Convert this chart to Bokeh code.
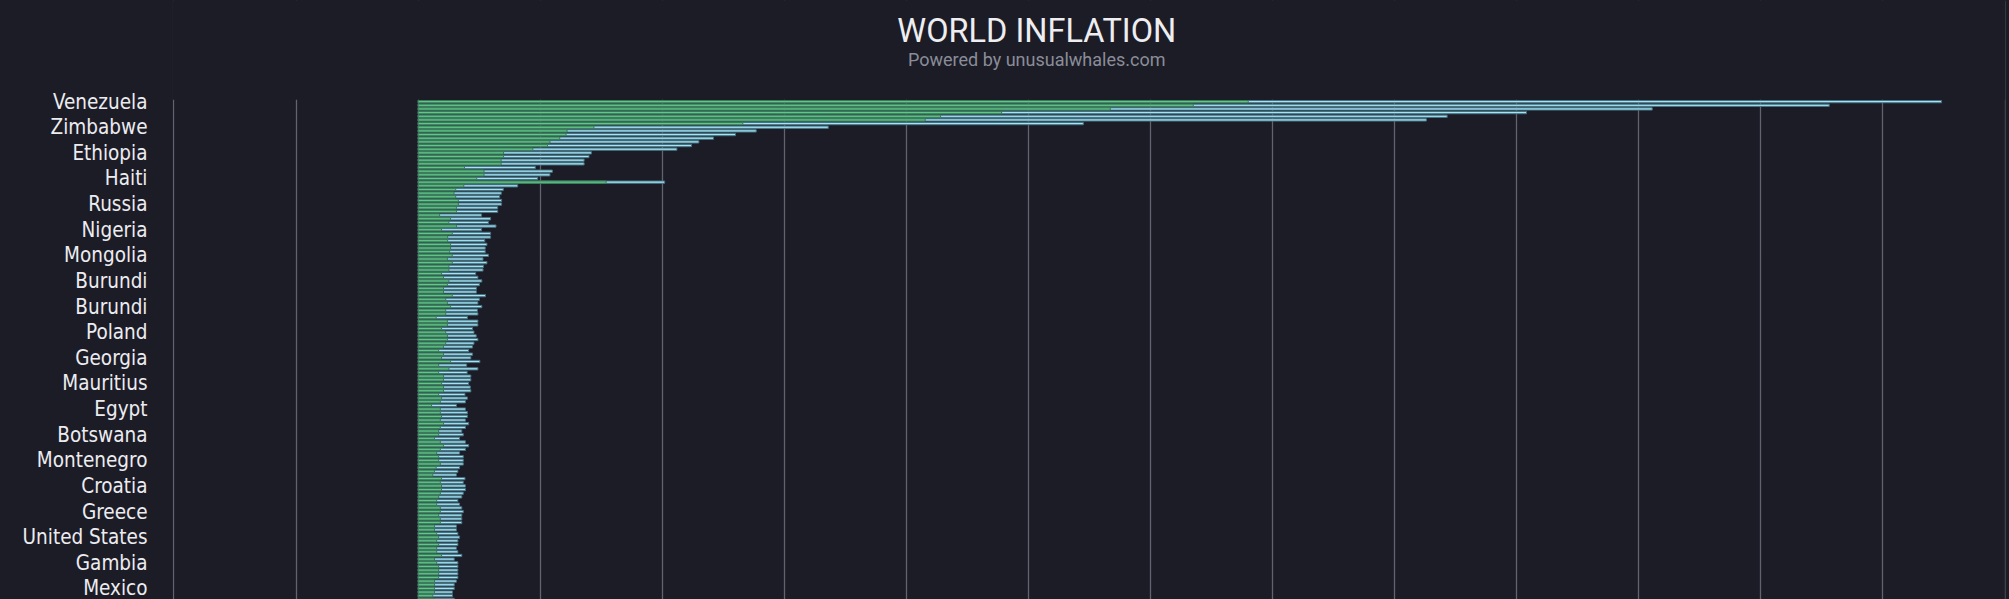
from bokeh.plotting import figure
from bokeh.models import (Range1d, FixedTicker, SingleIntervalTicker, Label,
                          BoxAnnotation, ColumnDataSource)
from bokeh.embed import file_html
from bokeh.resources import INLINE

# ---- data (inflation, previous vs current reading), sorted as in the chart ----
previous = [
    340, 317.5, 283.5, 239, 214, 207.7, 133, 72, 61, 60.6,
    58, 54, 53, 47, 35, 35, 34, 34, 19, 27,
    27, 24, 77, 18.7, 15.4, 14.7, 15.4, 16.5, 16.5, 15.7,
    15.7, 8.8, 13.3, 12.6, 15.7, 9.6, 14.0, 12.1, 12.1, 13.3,
    13.3, 12.9, 14.0, 12.0, 14.0, 12.6, 12.6, 9.6, 10.4, 12.6,
    12.0, 10.4, 10.4, 14.0, 11.3, 12.0, 13.3, 11.3, 11.3, 7.4,
    12.0, 12.0, 9.6, 11.3, 12.0, 12.0, 11.3, 10.4, 8.4, 10.4,
    9.6, 13.3, 8.4, 12.6, 8.4, 10.4, 10.4, 9.6, 10.4, 10.4,
    8.4, 9.6, 9.1, 5.5, 9.1, 9.1, 9.6, 9.1, 10.4, 9.1,
    8.4, 8.4, 6.7, 9.1, 10.4, 9.1, 7.6, 8.4, 8.4, 9.1,
    7.4, 6.7, 6.0, 9.6, 9.1, 9.6, 9.6, 9.1, 8.4, 7.6,
    7.6, 9.1, 9.1, 8.4, 9.1, 9.1, 6.7, 6.7, 7.6, 8.4,
    7.6, 8.4, 7.6, 7.6, 9.6, 6.7, 7.6, 8.4, 8.4, 8.4,
    8.4, 6.7, 6.7, 6.7, 6.7, 6.0, 6.7,
]
current = [
    624, 578, 505.5, 454, 421.5, 413, 272.5, 168, 138.5, 130,
    121, 115, 112, 106, 71, 70, 68, 68, 48, 55,
    54, 49, 101, 40.8, 34.9, 34.1, 33.4, 34.2, 34.2, 32.6,
    32.6, 26.0, 29.7, 28.8, 31.9, 26.0, 29.7, 29.7, 27.3, 28.2,
    27.5, 27.5, 28.8, 26.6, 28.2, 26.8, 26.6, 23.6, 24.5, 26.1,
    25.1, 23.9, 23.9, 27.6, 25.1, 24.5, 26.1, 24.3, 24.5, 20.2,
    24.5, 24.5, 22.3, 22.9, 23.8, 24.5, 22.9, 22.3, 20.7, 22.3,
    21.6, 25.3, 19.9, 24.5, 20.1, 21.6, 21.6, 20.7, 21.4, 21.6,
    19.2, 20.2, 19.4, 15.7, 19.4, 20.2, 20.2, 19.4, 20.7, 19.4,
    17.9, 18.5, 17.0, 19.4, 20.7, 19.4, 17.0, 18.5, 18.5, 18.5,
    17.0, 16.3, 15.7, 19.2, 18.5, 19.4, 19.4, 18.5, 17.9, 16.3,
    17.0, 17.9, 18.5, 17.9, 17.9, 17.9, 15.7, 15.7, 16.3, 17.0,
    16.3, 16.3, 15.7, 16.3, 17.9, 14.8, 16.3, 16.3, 16.3, 16.3,
    16.3, 15.7, 14.8, 14.8, 14.1, 14.1, 14.8,
]
# names shown on the axis (every 7th country)
tick_labels = ["Venezuela", "Zimbabwe", "Ethiopia", "Haiti", "Russia", "Nigeria",
               "Mongolia", "Burundi", "Burundi", "Poland", "Georgia", "Mauritius",
               "Egypt", "Botswana", "Montenegro", "Croatia", "Greece",
               "United States", "Gambia", "Mexico"]
LABEL_EVERY = 7
TITLE = "WORLD INFLATION"
SUBTITLE = "Powered by unusualwhales.com"

BG = "#1c1c27"
GRID = "#62636d"
GREEN = "#5fc78a"
GREEN_EDGE = "#3a7a56"
BLUE = "#a2e4f6"
BLUE_EDGE = "#46707f"

n = min(len(previous), len(current))
rows = list(range(n))
src = ColumnDataSource(dict(y=rows, prev=previous[:n], cur=current[:n]))

# the frame covers the whole canvas height; the heading band above the first row
# is masked so that the grid starts at the first bar, as in the original
TOP = -27.63
p = figure(width=2009, height=599, output_backend="svg", toolbar_location=None,
           x_range=Range1d(-100.6, 650.2), y_range=Range1d(136.03, TOP),
           background_fill_color=None, border_fill_color=BG, outline_line_color=None,
           min_border_left=172, min_border_right=4, min_border_top=0, min_border_bottom=0)

p.hbar(y="y", left=0, right="cur", height=0.62, fill_color=BLUE, line_color=BLUE_EDGE,
       line_width=1, source=src)
p.hbar(y="y", left=0, right="prev", height=0.62, fill_color=GREEN, line_color=GREEN_EDGE,
       line_width=1, source=src)

# mask: spans the full frame width (left/right default to the frame edges)
p.add_layout(BoxAnnotation(top=TOP - 5, bottom=-0.5,
                           fill_color=BG, fill_alpha=1.0, line_color=None, line_alpha=0))

# headings: x in data units (centre of the heading), y in screen px from the bottom
p.add_layout(Label(x=253.4, y=568.3, x_units="data", y_units="screen", text=TITLE,
                   text_align="center", text_baseline="middle",
                   text_font="Roboto", text_font_size="32.5px", text_color="#eeeef0"))
p.add_layout(Label(x=253.4, y=540.1, x_units="data", y_units="screen", text=SUBTITLE,
                   text_align="center", text_baseline="middle",
                   text_font="Roboto", text_font_size="18px", text_color="#8a8d98"))

# x axis lies below the visible area; keep its grid
p.xaxis.visible = False
p.xgrid.ticker = SingleIntervalTicker(interval=50)
p.xgrid.grid_line_color = GRID
p.xgrid.grid_line_width = 1.3
p.ygrid.visible = False

label_rows = [i * LABEL_EVERY for i in range(len(tick_labels))]
p.yaxis.ticker = FixedTicker(ticks=label_rows)
p.yaxis.major_label_overrides = {r: name for r, name in zip(label_rows, tick_labels)}
p.yaxis.axis_line_color = None
p.yaxis.major_tick_line_color = None
p.yaxis.minor_tick_line_color = None
p.yaxis.major_tick_out = 0
p.yaxis.major_tick_in = 0
p.yaxis.major_label_standoff = 25
p.yaxis.major_label_text_font = "DejaVu Sans Condensed"
p.yaxis.major_label_text_font_size = "20.5px"
p.yaxis.major_label_text_color = "#ececf0"

html = file_html(p, INLINE, title="World Inflation")
html = html.replace("</head>", "<style>html,body{background:#1c1c27;}</style></head>", 1)
open("out.html", "w").write(html)
